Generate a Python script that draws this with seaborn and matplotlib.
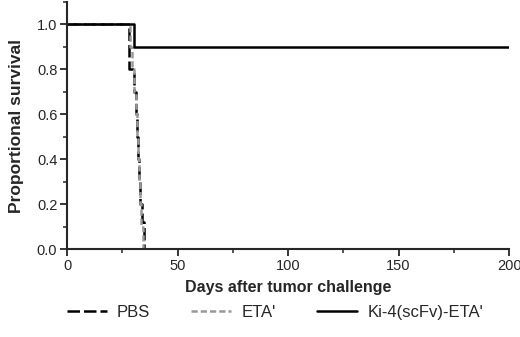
import pandas as pd
import seaborn as sns
import matplotlib.pyplot as plt
from matplotlib.ticker import MultipleLocator

# survival curves (steps-post)
pbs_days = [0, 28, 30.5, 31, 31.5, 32, 32.5, 33, 34, 35, 200]
pbs_surv = [1.0, 0.8, 0.7, 0.6, 0.5, 0.4, 0.3, 0.2, 0.12, 0.0, 0.0]
eta_days = [0, 28.5, 29.5, 30.5, 31, 31.5, 32, 32.5, 33, 33.5, 34.3, 200]
eta_surv = [1.0, 0.9, 0.8, 0.7, 0.6, 0.5, 0.4, 0.3, 0.2, 0.1, 0.0, 0.0]
ki4_days = [0, 30.3, 200]
ki4_surv = [1.0, 0.9, 0.9]
groups = ["PBS", "ETA'", "Ki-4(scFv)-ETA'"]

df = pd.concat([
    pd.DataFrame({"day": pbs_days, "surv": pbs_surv, "group": groups[0]}),
    pd.DataFrame({"day": eta_days, "surv": eta_surv, "group": groups[1]}),
    pd.DataFrame({"day": ki4_days, "surv": ki4_surv, "group": groups[2]}),
])

sns.set_style("ticks")
plt.rcParams['font.family'] = ['Liberation Sans', 'DejaVu Sans']

fig = plt.figure(figsize=(5.2, 3.37), dpi=100)
ax = fig.add_axes([0.129, 0.261, 0.85, 0.733])

sns.lineplot(data=df, x="day", y="surv", hue="group", style="group",
             palette={groups[0]: "black", groups[1]: "#999999", groups[2]: "black"},
             dashes={groups[0]: (5, 1.6), groups[1]: (2.5, 1.2), groups[2]: ""},
             drawstyle="steps-post", estimator=None, linewidth=1.8, ax=ax)

ax.set_xlim(0, 200)
ax.set_ylim(0, 1.1)
ax.set_xticks([0, 50, 100, 150, 200])
ax.set_yticks([0, 0.2, 0.4, 0.6, 0.8, 1.0])
ax.set_yticklabels(["0.0", "0.2", "0.4", "0.6", "0.8", "1.0"])
ax.xaxis.set_minor_locator(MultipleLocator(25))
ax.yaxis.set_minor_locator(MultipleLocator(0.1))
ax.tick_params(which="major", length=5, width=1.3, labelsize=10.5, pad=2)
ax.tick_params(which="minor", length=3, width=1.1)
ax.margins(0)
sns.despine(ax=ax)
for s in ["left", "bottom"]:
    ax.spines[s].set_linewidth(1.5)

ax.set_xlabel("Days after tumor challenge", fontsize=11.5, fontweight="bold", labelpad=5)
ax.set_ylabel("Proportional survival", fontsize=12.5, fontweight="bold", labelpad=9)

sns.move_legend(ax, "center", bbox_to_anchor=(0.47, -0.255), ncol=3, frameon=False,
                title=None, fontsize=12, handlelength=2.4, columnspacing=2.5,
                handletextpad=0.6)

fig.savefig("out.png", dpi=100)
